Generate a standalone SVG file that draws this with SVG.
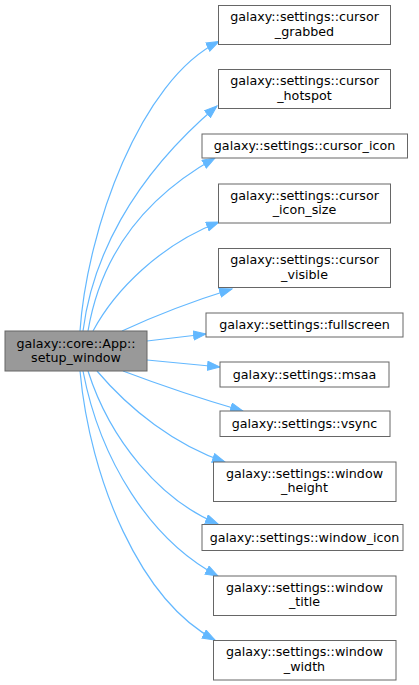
<svg xmlns="http://www.w3.org/2000/svg" width="419" height="685" viewBox="0 0 419 685">
<defs>
<style>
.n rect{fill:#ffffff;stroke:#666666;stroke-width:1}
.m rect{fill:#999999;stroke:#666666;stroke-width:1}
text{font-family:"DejaVu Sans","Liberation Sans",sans-serif;font-size:12.7px;fill:#000000;text-anchor:middle}
.e path{fill:none;stroke:#63b8ff;stroke-width:1.2;marker-end:url(#ah)}
</style>
<marker id="ah" markerUnits="userSpaceOnUse" markerWidth="14" markerHeight="11" refX="13" refY="5" orient="auto">
<path d="M0.5,0.5 L13,5 L0.5,9.5 Z" fill="#63b8ff" stroke="#63b8ff" stroke-width="1"/>
</marker>
</defs>
<rect width="419" height="685" fill="#ffffff"/>
<g id="edges" class="e">
<path d="M80,331 C87,230 140,80 219,41.5"/>
<path d="M83,331 C92,260 130,180 217,106"/>
<path d="M88,331 C100,260 140,200 215,158"/>
<path d="M93,331 C115,290 160,245 219,222"/>
<path d="M122,331 C150,318 190,302 232,289"/>
<path d="M147,341 L206,334"/>
<path d="M147,360 L220,367"/>
<path d="M123,371 C160,385 205,400 243,411"/>
<path d="M97,371 C130,410 175,445 225,462"/>
<path d="M88,371 C110,440 160,500 218,524"/>
<path d="M83,371 C100,460 150,540 218,576"/>
<path d="M80,371 C90,480 140,600 215,640"/>
</g>
<g id="main" class="m"><rect x="5" y="331" width="142" height="40"/><text x="76" y="347.5">galaxy::core::App::</text><text x="76" y="361.5">setup_window</text></g>
<g id="n1" class="n"><rect x="218.5" y="5.5" width="172" height="39"/><text x="304.5" y="21">galaxy::settings::cursor</text><text x="304.5" y="35.5">_grabbed</text></g>
<g id="n2" class="n"><rect x="218.5" y="69.5" width="172" height="39"/><text x="304.5" y="85">galaxy::settings::cursor</text><text x="304.5" y="99.5">_hotspot</text></g>
<g id="n3" class="n"><rect x="202" y="134" width="205.5" height="24"/><text x="304.5" y="150">galaxy::settings::cursor_icon</text></g>
<g id="n4" class="n"><rect x="218.5" y="184" width="172" height="39"/><text x="304.5" y="199.5">galaxy::settings::cursor</text><text x="304.5" y="214">_icon_size</text></g>
<g id="n5" class="n"><rect x="218.5" y="248.5" width="172" height="39"/><text x="304.5" y="264">galaxy::settings::cursor</text><text x="304.5" y="278.5">_visible</text></g>
<g id="n6" class="n"><rect x="206" y="313" width="197" height="24"/><text x="304.5" y="329">galaxy::settings::fullscreen</text></g>
<g id="n7" class="n"><rect x="220" y="362" width="169" height="25"/><text x="304.5" y="378.5">galaxy::settings::msaa</text></g>
<g id="n8" class="n"><rect x="220" y="411" width="170" height="25.5"/><text x="304.5" y="427.5">galaxy::settings::vsync</text></g>
<g id="n9" class="n"><rect x="213.5" y="462" width="182.5" height="39.5"/><text x="304.5" y="477.5">galaxy::settings::window</text><text x="304.5" y="492">_height</text></g>
<g id="n10" class="n"><rect x="202" y="524.5" width="201" height="26"/><text x="304.5" y="541.5">galaxy::settings::window_icon</text></g>
<g id="n11" class="n"><rect x="213.5" y="576" width="182.5" height="39.5"/><text x="304.5" y="591.5">galaxy::settings::window</text><text x="304.5" y="606">_title</text></g>
<g id="n12" class="n"><rect x="213.5" y="640.5" width="182.5" height="39.5"/><text x="304.5" y="656">galaxy::settings::window</text><text x="304.5" y="670.5">_width</text></g>
</svg>
